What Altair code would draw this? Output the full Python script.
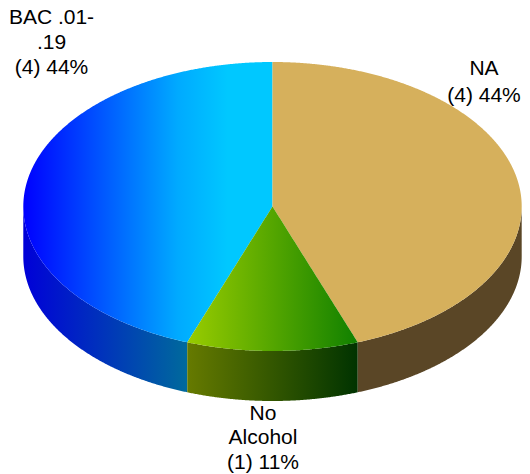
import numpy as np
import pandas as pd
import altair as alt

# values
categories = ["NA", "No Alcohol", "BAC .01-.19"]
counts = [4, 1, 4]
label_lines = [["NA", "(4) 44%"], ["No", "Alcohol", "(1) 11%"], ["BAC .01-", ".19", "(4) 44%"]]
label_x = [484, 263, 51.5]
label_y = [[75, 102], [420, 444, 469], [24, 49, 74]]

# pie look
CX, CY, RX, RY, DEPTH = 272.5, 206.5, 249.2, 144.5, 50.0
W, H = 514, 466

ang = np.cumsum([0] + counts) / sum(counts) * 2 * np.pi
a_na, a_bac = ang[1], ang[2]
xa, xb = CX + RX * np.sin(a_na), CX + RX * np.sin(a_bac)
ya = CY - RY * np.cos(a_na)


def xs(lo, hi):
    t = np.linspace(-np.pi / 2, np.pi / 2, 721)
    v = CX + RX * np.sin(t)
    v = v[(v > lo) & (v < hi)]
    return np.concatenate([[lo], v, [hi]])


def lower(x):
    return CY + RY * np.sqrt(np.clip(1 - ((x - CX) / RX) ** 2, 0, 1))


def upper(x):
    return CY - RY * np.sqrt(np.clip(1 - ((x - CX) / RX) ** 2, 0, 1))


def seam(x):
    return CY + (ya - CY) * np.abs(x - CX) / (xa - CX)


x_scale = alt.Scale(domain=[8, 8 + W], range=[0, W], nice=False, zero=False)
y_scale = alt.Scale(domain=[8 + H, 8], nice=False, zero=False)


def grad(*stops):
    return alt.Gradient(
        gradient="linear", x1=0, x2=1, y1=0, y2=0,
        stops=[alt.GradientStop(offset=o, color=c) for o, c in stops],
    )


def piece(x, y0, y1, color):
    df = pd.DataFrame({"x": x, "y0": y0, "y1": y1})
    return alt.Chart(df).mark_area(color=color, strokeWidth=0, interpolate="linear", clip=False).encode(
        x=alt.X("x:Q", scale=x_scale, axis=None),
        y=alt.Y("y0:Q", scale=y_scale, axis=None),
        y2="y1:Q",
    )


layers = []
# side walls
x = xs(CX - RX, xb)
layers.append(piece(x, lower(x), lower(x) + DEPTH, grad((0, "#0000d8"), (1, "#006a9c"))))
x = xs(xb, xa)
layers.append(piece(x, lower(x), lower(x) + DEPTH, grad((0, "#667a00"), (1, "#003300"))))
x = xs(xa, CX + RX)
layers.append(piece(x, lower(x), lower(x) + DEPTH, "#5a4626"))
# top face
x = xs(CX - RX, CX)
layers.append(piece(x, upper(x), np.where(x < xb, lower(x), seam(x)),
                    grad((0, "#0000ff"), (0.62, "#00aaff"), (0.82, "#00c8ff"), (1, "#00c8ff"))))
x = xs(CX, CX + RX)
layers.append(piece(x, upper(x), np.where(x > xa, lower(x), seam(x)), "#d6b05c"))
x = xs(xb, xa)
layers.append(piece(x, seam(x), lower(x), grad((0, "#99cc00"), (1, "#108000"))))

# labels
rows = []
for lines, lx, lys in zip(label_lines, label_x, label_y):
    for t, ly in zip(lines, lys):
        rows.append({"t": t, "x": lx, "y": ly})
text = alt.Chart(pd.DataFrame(rows)).mark_text(
    font="Liberation Sans", fontSize=21, color="#000000", align="center", baseline="alphabetic"
).encode(
    x=alt.X("x:Q", scale=x_scale, axis=None),
    y=alt.Y("y:Q", scale=y_scale, axis=None),
    text="t:N",
)

chart = alt.layer(*layers, text).properties(
    width=W, height=H, padding=0, autosize=alt.AutoSizeParams(type="none")
).configure_view(stroke=None)

chart.save("out.html", embed_options={"renderer": "svg", "actions": False})
